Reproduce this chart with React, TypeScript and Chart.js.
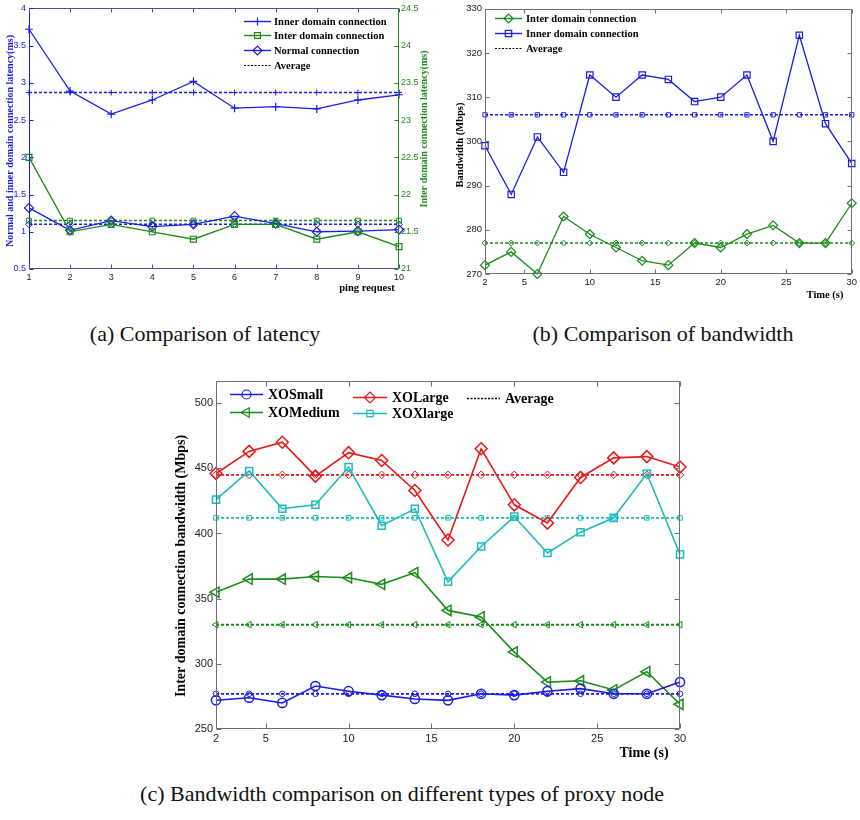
import React, { useEffect, useRef } from 'react';
import { Chart, registerables } from 'chart.js';
import { drawPoint } from 'chart.js/helpers';

Chart.register(...registerables);

// ---------------- (a) latency ----------------
const pingRequests = [1, 2, 3, 4, 5, 6, 7, 8, 9, 10];
const latencyInner = [3.72, 2.89, 2.58, 2.77, 3.02, 2.66, 2.68, 2.65, 2.77, 2.84];
const latencyInter = [22.5, 21.5, 21.6, 21.5, 21.4, 21.6, 21.6, 21.4, 21.5, 21.3];
const latencyNormal = [1.32, 1.02, 1.15, 1.07, 1.1, 1.21, 1.11, 1.0, 1.01, 1.03];
const latencyInnerAvg = 2.87;
const latencyInterAvg = 21.65;
const latencyNormalAvg = 1.1;
const latencyLeftTicks = [0.5, 1, 1.5, 2, 2.5, 3, 3.5, 4];
const latencyRightTicks = [21, 21.5, 22, 22.5, 23, 23.5, 24, 24.5];

// ---------------- (b) bandwidth ----------------
const timeSeconds = [2, 4, 6, 8, 10, 12, 14, 16, 18, 20, 22, 24, 26, 28, 30];
const timeTicks = [2, 5, 10, 15, 20, 25, 30];
const bwInter = [272, 275, 270, 283, 279, 276, 273, 272, 277, 276, 279, 281, 277, 277, 286];
const bwInner = [299, 288, 301, 293, 315, 310, 315, 314, 309, 310, 315, 300, 324, 304, 295];
const bwInterAvg = 277;
const bwInnerAvg = 306;
const bwTicks = [270, 280, 290, 300, 310, 320, 330];

// ---------------- (c) proxy node types ----------------
const xoSmall = [272, 274, 270, 283, 279, 276, 273, 272, 277, 276, 279, 281, 277, 277, 286];
const xoMedium = [355, 365, 365, 367, 366, 361, 370, 341, 336, 309, 286, 287, 280, 294, 269];
const xoLarge = [446, 463, 470, 444, 462, 456, 433, 395, 465, 422, 408, 443, 458, 459, 451];
const xoXlarge = [426, 448, 419, 422, 451, 406, 419, 363, 390, 413, 385, 401, 412, 446, 384];
const xoSmallAvg = 277;
const xoMediumAvg = 330;
const xoLargeAvg = 445;
const xoXlargeAvg = 412;
const proxyTicks = [250, 300, 350, 400, 450, 500];

const SANS = '"Liberation Sans", Arial, sans-serif';
const SERIF = '"Liberation Serif", "Times New Roman", serif';
const BLUE = '#1c1ce0';
const GREEN = '#1a8c1a';
const RED = '#e61919';
const CYAN = '#1fbaba';
const AXIS = '#6e6e6e';

function series(xs: number[], ys: number[], color: string, style: string, radius: number, extra: any = {}) {
  return {
    data: xs.map((x, i) => ({ x, y: ys[i] })),
    borderColor: color,
    borderWidth: 1.3,
    pointStyle: style,
    pointRadius: radius,
    pointHoverRadius: radius,
    pointBorderColor: color,
    pointBackgroundColor: 'rgba(0,0,0,0)',
    pointBorderWidth: 1.2,
    tension: 0,
    clip: false,
    ...extra,
  };
}

function average(xs: number[], value: number, color: string, style: string, radius: number, extra: any = {}) {
  return series(xs, xs.map(() => value), color, style, radius, {
    borderDash: [3, 2],
    borderWidth: 1.5,
    pointBorderWidth: 1,
    ...extra,
  });
}

function fixedTicks(values: number[]) {
  return (s: any) => {
    s.ticks = values.map((v) => ({ value: v }));
  };
}

function decorPlugin(cfg: any) {
  return {
    id: 'decor',
    afterDraw(chart: any) {
      const ctx = chart.ctx;
      const a = chart.chartArea;
      const L = cfg.tickLen || 4;
      const seg = (x1: number, y1: number, x2: number, y2: number, color: string) => {
        ctx.strokeStyle = color;
        ctx.beginPath();
        ctx.moveTo(x1, y1);
        ctx.lineTo(x2, y2);
        ctx.stroke();
      };
      ctx.save();
      ctx.lineWidth = 1;
      ctx.setLineDash([]);
      const l = Math.round(a.left) + 0.5;
      const r = Math.round(a.right) - 0.5;
      const t = Math.round(a.top) + 0.5;
      const b = Math.round(a.bottom) - 0.5;
      const box = cfg.box;
      seg(l, t, r, t, box.top);
      seg(l, b, r, b, box.bottom);
      seg(l, t, l, b, box.left);
      seg(r, t, r, b, box.right);
      const xs = chart.scales.x;
      for (const tk of xs.ticks) {
        const p = Math.round(xs.getPixelForValue(tk.value)) + 0.5;
        seg(p, b, p, b - L, box.bottom);
        seg(p, t, p, t + L, box.top);
      }
      const yl = chart.scales.y;
      for (const tk of yl.ticks) {
        const p = Math.round(yl.getPixelForValue(tk.value)) + 0.5;
        seg(l, p, l + L, p, box.left);
      }
      const yr = chart.scales[cfg.rightScale || 'y'];
      for (const tk of yr.ticks) {
        const p = Math.round(yr.getPixelForValue(tk.value)) + 0.5;
        seg(r, p, r - L, p, box.right);
      }
      // axis titles
      for (const tx of cfg.texts) {
        ctx.save();
        ctx.translate(tx.x, tx.y);
        if (tx.rot) ctx.rotate(tx.rot);
        ctx.font = tx.font;
        ctx.fillStyle = tx.color || '#000';
        ctx.textAlign = 'center';
        ctx.textBaseline = 'middle';
        ctx.fillText(tx.text, 0, 0);
        ctx.restore();
      }
      // legend
      for (const it of cfg.legend) {
        ctx.save();
        ctx.strokeStyle = it.color;
        ctx.lineWidth = it.lw || 1.4;
        ctx.setLineDash(it.dash || []);
        ctx.beginPath();
        ctx.moveTo(it.x1, it.y + 0.5);
        ctx.lineTo(it.x2, it.y + 0.5);
        ctx.stroke();
        ctx.setLineDash([]);
        if (it.style) {
          ctx.lineWidth = 1.2;
          ctx.fillStyle = 'rgba(0,0,0,0)';
          drawPoint(ctx, { pointStyle: it.style, rotation: it.rot || 0, radius: it.r, borderWidth: 1.2 } as any, (it.x1 + it.x2) / 2, it.y + 0.5);
        }
        ctx.font = cfg.legendFont;
        ctx.fillStyle = '#000';
        ctx.textAlign = 'left';
        ctx.textBaseline = 'middle';
        ctx.fillText(it.label, it.tx, it.y + 1);
        ctx.restore();
      }
      ctx.restore();
    },
  };
}

function axisX(min: number, max: number, ticks: number[], height: number, size: number, color = '#222') {
  return {
    type: 'linear',
    min,
    max,
    afterBuildTicks: fixedTicks(ticks),
    afterFit: (s: any) => {
      s.height = height;
    },
    ticks: { font: { family: SANS, size }, color, padding: 3, maxRotation: 0, autoSkip: false, callback: (v: any) => String(v) },
    grid: { display: false, drawTicks: false },
    border: { display: false },
  };
}

function axisY(position: string, min: number, max: number, ticks: number[], width: number, size: number, color: string, padding = 3) {
  return {
    type: 'linear',
    position,
    min,
    max,
    afterBuildTicks: fixedTicks(ticks),
    afterFit: (s: any) => {
      s.width = width;
    },
    ticks: { font: { family: SANS, size }, color, padding, autoSkip: false, callback: (v: any) => String(v) },
    grid: { display: false, drawTicks: false },
    border: { display: false },
  };
}

const baseOptions = {
  animation: false,
  responsive: false,
  events: [],
  plugins: { legend: { display: false }, tooltip: { enabled: false } },
};

function buildLatency() {
  return {
    type: 'line',
    data: {
      datasets: [
        series(pingRequests, latencyInner, BLUE, 'cross', 4, { yAxisID: 'y' }),
        series(pingRequests, latencyInter, GREEN, 'rect', 4.2, { yAxisID: 'y2' }),
        series(pingRequests, latencyNormal, BLUE, 'rectRot', 4.5, { yAxisID: 'y' }),
        average(pingRequests, latencyInnerAvg, BLUE, 'cross', 3, { yAxisID: 'y' }),
        average(pingRequests, latencyInterAvg, GREEN, 'rect', 3.4, { yAxisID: 'y2' }),
        average(pingRequests, latencyNormalAvg, BLUE, 'rectRot', 3.4, { yAxisID: 'y' }),
      ],
    },
    options: {
      ...baseOptions,
      layout: { padding: { top: 7, left: 0, right: 0, bottom: 0 } },
      scales: {
        x: axisX(1, 10, pingRequests, 31, 9),
        y: axisY('left', 0.5, 4, latencyLeftTicks, 29, 9, BLUE, 3),
        y2: axisY('right', 21, 24.5, latencyRightTicks, 41, 9, GREEN, 2),
      },
    },
    plugins: [
      decorPlugin({
        box: { top: '#4a4a9a', bottom: '#4a4a9a', left: BLUE, right: GREEN },
        rightScale: 'y2',
        texts: [
          { text: 'Normal and inner domain connection latency(ms)', x: 10, y: 141, rot: -Math.PI / 2, font: `bold 10px ${SERIF}`, color: BLUE },
          { text: 'Inter domain connection latency(ms)', x: 424, y: 129, rot: -Math.PI / 2, font: `bold 10px ${SERIF}`, color: GREEN },
          { text: 'ping request', x: 367, y: 288, font: `bold 10.5px ${SERIF}`, color: '#000' },
        ],
        legendFont: `bold 10.5px ${SERIF}`,
        legend: [
          { label: 'Inner domain connection', color: BLUE, style: 'cross', r: 4, x1: 244, x2: 271, tx: 274, y: 21 },
          { label: 'Inter domain connection', color: GREEN, style: 'rect', r: 4.2, x1: 244, x2: 271, tx: 274, y: 35 },
          { label: 'Normal connection', color: BLUE, style: 'rectRot', r: 4.5, x1: 244, x2: 271, tx: 274, y: 50 },
          { label: 'Average', color: '#000', dash: [2, 1.5], lw: 1.2, x1: 244, x2: 271, tx: 274, y: 65 },
        ],
      }),
    ],
  };
}

function buildBandwidth() {
  return {
    type: 'line',
    data: {
      datasets: [
        series(timeSeconds, bwInter, GREEN, 'rectRot', 4.5),
        series(timeSeconds, bwInner, BLUE, 'rect', 4.5),
        average(timeSeconds, bwInterAvg, GREEN, 'rectRot', 3),
        average(timeSeconds, bwInnerAvg, BLUE, 'rect', 3),
      ],
    },
    options: {
      ...baseOptions,
      layout: { padding: { top: 6, left: 0, right: 7, bottom: 0 } },
      scales: {
        x: axisX(2, 30, timeTicks, 36, 9.5),
        y: axisY('left', 270, 330, bwTicks, 45, 9.5, '#222', 3),
      },
    },
    plugins: [
      decorPlugin({
        box: { top: AXIS, bottom: AXIS, left: AXIS, right: AXIS },
        texts: [
          { text: 'Bandwidth (Mbps)', x: 20, y: 145, rot: -Math.PI / 2, font: `bold 10.5px ${SERIF}`, color: '#000' },
          { text: 'Time (s)', x: 385, y: 295, font: `bold 10.5px ${SERIF}`, color: '#000' },
        ],
        legendFont: `bold 10.5px ${SERIF}`,
        legend: [
          { label: 'Inter domain connection', color: GREEN, style: 'rectRot', r: 4.5, x1: 55, x2: 82, tx: 86, y: 18 },
          { label: 'Inner domain connection', color: BLUE, style: 'rect', r: 4.5, x1: 55, x2: 82, tx: 86, y: 33 },
          { label: 'Average', color: '#000', dash: [2, 1.5], lw: 1.2, x1: 55, x2: 82, tx: 86, y: 48 },
        ],
      }),
    ],
  };
}

function buildProxy() {
  return {
    type: 'line',
    data: {
      datasets: [
        series(timeSeconds, xoSmall, BLUE, 'circle', 4.6, { borderWidth: 1.6, pointBorderWidth: 1.5 }),
        series(timeSeconds, xoMedium, GREEN, 'triangle', 6, { borderWidth: 1.6, pointBorderWidth: 1.5, pointRotation: -90 }),
        series(timeSeconds, xoLarge, RED, 'rectRot', 6, { borderWidth: 1.6, pointBorderWidth: 1.5 }),
        series(timeSeconds, xoXlarge, CYAN, 'rect', 5, { borderWidth: 1.6, pointBorderWidth: 1.5 }),
        average(timeSeconds, xoSmallAvg, BLUE, 'circle', 2.8, { borderWidth: 1.8 }),
        average(timeSeconds, xoMediumAvg, GREEN, 'triangle', 3.8, { borderWidth: 1.8, pointRotation: -90 }),
        average(timeSeconds, xoLargeAvg, RED, 'rectRot', 3.8, { borderWidth: 1.8 }),
        average(timeSeconds, xoXlargeAvg, CYAN, 'rect', 3.2, { borderWidth: 1.8 }),
      ],
    },
    options: {
      ...baseOptions,
      layout: { padding: { top: 11, left: 0, right: 40, bottom: 0 } },
      scales: {
        x: axisX(2, 30, timeTicks, 41, 11),
        y: axisY('left', 250, 517, proxyTicks, 56, 11, '#222', 3),
      },
    },
    plugins: [
      decorPlugin({
        box: { top: AXIS, bottom: AXIS, left: AXIS, right: AXIS },
        tickLen: 5,
        texts: [
          { text: 'Inter domain connection bandwidth (Mbps)', x: 21, y: 196, rot: -Math.PI / 2, font: `bold 14px ${SERIF}`, color: '#000' },
          { text: 'Time (s)', x: 484, y: 383, font: `bold 14px ${SERIF}`, color: '#000' },
        ],
        legendFont: `bold 14px ${SERIF}`,
        legend: [
          { label: 'XOSmall', color: BLUE, style: 'circle', r: 4.5, lw: 1.6, x1: 70, x2: 103, tx: 108, y: 24 },
          { label: 'XOMedium', color: GREEN, style: 'triangle', rot: -90, r: 5.5, lw: 1.6, x1: 70, x2: 103, tx: 108, y: 42 },
          { label: 'XOLarge', color: RED, style: 'rectRot', r: 5.5, lw: 1.6, x1: 193, x2: 227, tx: 232, y: 27 },
          { label: 'XOXlarge', color: CYAN, style: 'rect', r: 4.5, lw: 1.6, x1: 193, x2: 227, tx: 232, y: 43 },
          { label: 'Average', color: '#000', dash: [2, 1.5], lw: 1.3, x1: 307, x2: 340, tx: 345, y: 28 },
        ],
      }),
    ],
  };
}

function ChartCanvas(props: { left: number; top: number; width: number; height: number; build: () => any }) {
  const ref = useRef<HTMLCanvasElement>(null);
  useEffect(() => {
    const chart = new Chart(ref.current as HTMLCanvasElement, props.build());
    return () => chart.destroy();
  }, []);
  return (
    <canvas
      ref={ref}
      width={props.width}
      height={props.height}
      style={{ position: 'absolute', left: props.left, top: props.top, width: props.width, height: props.height }}
    />
  );
}

function Caption(props: { cx: number; baseline: number; text: string }) {
  return (
    <div
      style={{
        position: 'absolute',
        left: props.cx - 320,
        width: 640,
        top: props.baseline - 18.4,
        textAlign: 'center',
        fontFamily: SERIF,
        fontSize: 22,
        lineHeight: '22px',
        color: '#111',
        whiteSpace: 'nowrap',
      }}
    >
      {props.text}
    </div>
  );
}

export default function App() {
  return (
    <div style={{ position: 'absolute', left: 0, top: 0, width: 860, height: 820, background: '#fff', overflow: 'hidden' }}>
      <ChartCanvas left={0} top={0} width={440} height={300} build={buildLatency} />
      <ChartCanvas left={440} top={0} width={420} height={310} build={buildBandwidth} />
      <ChartCanvas left={160} top={370} width={560} height={400} build={buildProxy} />
      <Caption cx={205} baseline={341} text="(a) Comparison of latency" />
      <Caption cx={663} baseline={341} text="(b) Comparison of bandwidth" />
      <Caption cx={402} baseline={801} text="(c) Bandwidth comparison on different types of proxy node" />
    </div>
  );
}
